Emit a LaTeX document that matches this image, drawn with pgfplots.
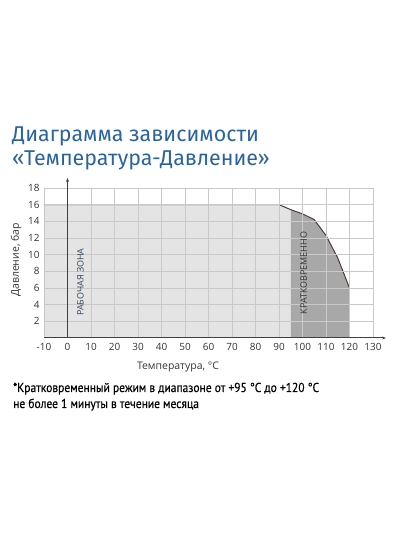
\documentclass[border=0pt]{standalone}
\usepackage{fontspec}
\setmainfont{Open Sans}
\newfontfamily\titlefont{Fira Sans}
\newfontfamily\notefont[FakeStretch=0.89,FakeBold=0.5]{PT Sans}
\usepackage{pgfplots}
\pgfplotsset{compat=1.18}
\usetikzlibrary{arrows.meta}

\definecolor{titleblue}{HTML}{2A64A0}
\definecolor{zonelight}{HTML}{E4E4E4}
\definecolor{zonedark}{HTML}{A8A8A8}
\definecolor{curve}{HTML}{4D3B36}
\definecolor{gridgray}{HTML}{C9C9C9}
\definecolor{txt}{HTML}{333333}

\begin{document}
\begin{tikzpicture}
\path (0bp,0bp) rectangle (400bp,534bp);

% title
\node[anchor=base west, inner sep=0, text=titleblue, font=\titlefont\fontsize{21.5}{25}\selectfont]
  at (12bp,392bp) {Диаграмма зависимости};
\node[anchor=base west, inner sep=0, text=titleblue, font=\titlefont\fontsize{21.5}{25}\selectfont]
  at (12bp,368bp) {«Температура-Давление»};

\begin{axis}[
    at={(44bp,196bp)}, anchor=south west,
    scale only axis,
    width=329bp, height=150bp,
    xmin=-10, xmax=130,
    ymin=0, ymax=18,
    xtick={-10,0,...,130},
    ytick={2,4,...,18},
    axis line style={draw=none},
    major tick length=0pt,
    grid=major,
    major grid style={gridgray, line width=0.6pt},
    axis on top,
    clip=false,
    tick label style={font=\fontsize{10}{12}\selectfont, text=txt},
    /pgf/number format/assume math mode=true,
    yticklabel style={xshift=-1bp},
    xticklabel style={yshift=-2bp},
]
    % working zone
    \addplot[draw=none, fill=zonelight] coordinates {
        (-10,0) (-10,16) (90,16) (95,15.4) (95,0)
    } -- cycle;
    % short-term zone
    \addplot[draw=none, fill=zonedark] coordinates {
        (95,0) (95,15.4) (100,14.9) (105,14.2) (110,12.3) (115,9.6) (120,6) (120,0)
    } -- cycle;
    % limit curve
    \addplot[curve, line width=1pt] coordinates {
        (-10,16) (90,16) (95,15.4) (100,14.9) (105,14.2) (110,12.3) (115,9.6) (120,6)
    };
    \coordinate (o) at (axis cs:0,0);
    \coordinate (ytop) at (axis cs:0,19.2);
    \coordinate (xl) at (axis cs:-10,0);
    \coordinate (xr) at (axis cs:135.5,0);
    \coordinate (wz) at (axis cs:5.5,6.7);
    \coordinate (sz) at (axis cs:100.5,7.8);
\end{axis}

% axes with arrows and zone labels, on top of the grid
\draw[curve, line width=1pt, -{Stealth[length=4pt,width=3pt]}] (o) -- (ytop);
\draw[curve, line width=1pt, -{Stealth[length=4pt,width=3pt]}] (xl) -- (xr);
\node[rotate=90, text=titleblue!35!txt, font=\fontsize{9}{11}\selectfont] at (wz) {РАБОЧАЯ ЗОНА};
\node[rotate=90, text=txt, font=\fontsize{9}{11}\selectfont] at (sz) {КРАТКОВРЕМЕННО};

% axis labels
\node[rotate=90, text=txt, font=\fontsize{10.5}{12}\selectfont] at (16bp,274bp) {Давление, бар};
\node[anchor=base, text=txt, font=\fontsize{10.5}{12}\selectfont] at (178bp,164bp) {Температура, °C};

% footnote
\node[anchor=base west, inner sep=0, text=black, font=\notefont\fontsize{13}{15}\selectfont]
  at (13bp,142bp) {*Кратковременный режим в диапазоне от +95 °C до +120 °C};
\node[anchor=base west, inner sep=0, text=black, font=\notefont\fontsize{13}{15}\selectfont]
  at (13bp,126bp) {не более 1 минуты в течение месяца};
\end{tikzpicture}
\end{document}
